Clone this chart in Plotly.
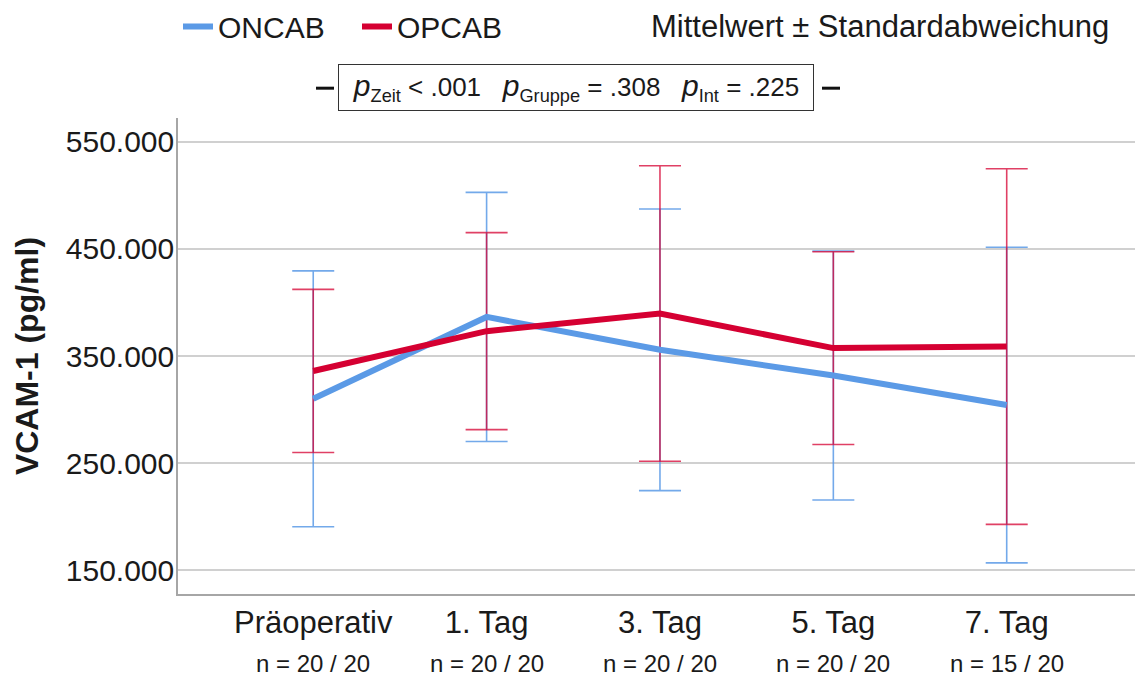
import plotly.graph_objects as go

# ---- data ----
categories = ["Präoperativ", "1. Tag", "3. Tag", "5. Tag", "7. Tag"]
n_labels = ["n = 20 / 20", "n = 20 / 20", "n = 20 / 20", "n = 20 / 20", "n = 15 / 20"]
oncab_mean = [310000, 386500, 355800, 331800, 304200]
oncab_sd = [119500, 116300, 131500, 116300, 147400]
opcab_mean = [336000, 373200, 389700, 357400, 358800]
opcab_sd = [76200, 92000, 138000, 90000, 166100]
y_tickvals = [150000, 250000, 350000, 450000, 550000]
y_ticktext = ["150.000", "250.000", "350.000", "450.000", "550.000"]

BLUE = "#5b9ae6"
RED = "#d50032"
FONT = "Arial, Liberation Sans, sans-serif"
TXT = "#1a1a1a"

fig = go.Figure()

# error bars (drawn first, beneath lines)
fig.add_trace(go.Scatter(
    x=categories, y=oncab_mean, mode="markers",
    marker=dict(size=1, opacity=0), showlegend=False, hoverinfo="skip",
    error_y=dict(type="data", array=oncab_sd, visible=True,
                 color="rgba(91,154,230,0.85)", thickness=1.6, width=21)))
fig.add_trace(go.Scatter(
    x=categories, y=opcab_mean, mode="markers",
    marker=dict(size=1, opacity=0), showlegend=False, hoverinfo="skip",
    error_y=dict(type="data", array=opcab_sd, visible=True,
                 color="rgba(213,0,50,0.75)", thickness=1.6, width=21)))

# mean lines
fig.add_trace(go.Scatter(x=categories, y=oncab_mean, mode="lines", name="ONCAB",
                         line=dict(color=BLUE, width=6)))
fig.add_trace(go.Scatter(x=categories, y=opcab_mean, mode="lines", name="OPCAB",
                         line=dict(color=RED, width=6)))

L, R, T, B = 178, 0, 115, 83
W, H = 1135, 677
pw, ph = W - L - R, H - T - B

def px2x(px):
    return (px - L) / pw

def py2y(py):
    return (H - B - py) / ph

annotations = []
for c, n in zip(categories, n_labels):
    annotations.append(dict(x=c, xref="x", y=py2y(664), yref="paper", text=n,
                            showarrow=False, font=dict(family=FONT, size=24, color=TXT),
                            xanchor="center", yanchor="middle"))

annotations.append(dict(x=px2x(1111), y=py2y(23), xref="paper", yref="paper",
                        text="Mittelwert ± Standardabweichung", showarrow=False,
                        xanchor="right", yanchor="middle",
                        font=dict(family=FONT, size=31, color=TXT)))

sp = "\u00a0\u00a0\u00a0"
ptext = ("<i><span style='font-size:30px'>p</span></i><sub>Zeit</sub> &lt; .001" + sp +
         "<i><span style='font-size:30px'>p</span></i><sub>Gruppe</sub> = .308" + sp +
         "<i><span style='font-size:30px'>p</span></i><sub>Int</sub> = .225")
annotations.append(dict(x=px2x(576), y=py2y(84.5), xref="paper", yref="paper",
                        text=ptext, showarrow=False, xanchor="center", yanchor="middle",
                        width=470, height=41, borderpad=2,
                        bordercolor="#333333", borderwidth=1, bgcolor="white",
                        font=dict(family=FONT, size=26, color=TXT)))

shapes = [
    dict(type="line", xref="paper", yref="paper", x0=px2x(316), x1=px2x(334),
         y0=py2y(85), y1=py2y(85), line=dict(color="#111111", width=3)),
    dict(type="line", xref="paper", yref="paper", x0=px2x(822), x1=px2x(840),
         y0=py2y(85), y1=py2y(85), line=dict(color="#111111", width=3)),
]

fig.update_layout(
    width=W, height=H,
    margin=dict(l=L, r=R, t=T, b=B),
    paper_bgcolor="white", plot_bgcolor="white",
    font=dict(family=FONT, color=TXT),
    showlegend=True,
    legend=dict(orientation="h", x=0, xanchor="left", y=py2y(23), yanchor="middle",
                font=dict(family=FONT, size=30, color=TXT),
                entrywidth=134, entrywidthmode="pixels",
                bgcolor="rgba(0,0,0,0)", borderwidth=0, tracegroupgap=0),
    annotations=annotations,
    shapes=shapes,
)

fig.update_xaxes(
    type="category", range=[-0.78, 4.74], showgrid=False, zeroline=False,
    showline=True, linecolor="#a6a6a6", linewidth=1.5, ticks="",
    tickfont=dict(family=FONT, size=31, color=TXT), automargin=False,
    ticklabelstandoff=0)

fig.update_yaxes(
    range=[127700, 572300], tickvals=y_tickvals, ticktext=y_ticktext,
    showgrid=True, gridcolor="#d0d0d0", gridwidth=1.5, zeroline=False,
    showline=True, linecolor="#a6a6a6", linewidth=1.5, ticks="",
    tickfont=dict(family=FONT, size=30, color=TXT), automargin=False,
    ticklabelstandoff=-4,
    title=dict(text="<b>VCAM-1 (pg/ml)</b>", standoff=18,
               font=dict(family=FONT, size=32, color=TXT)))

fig.write_html("out.html")
